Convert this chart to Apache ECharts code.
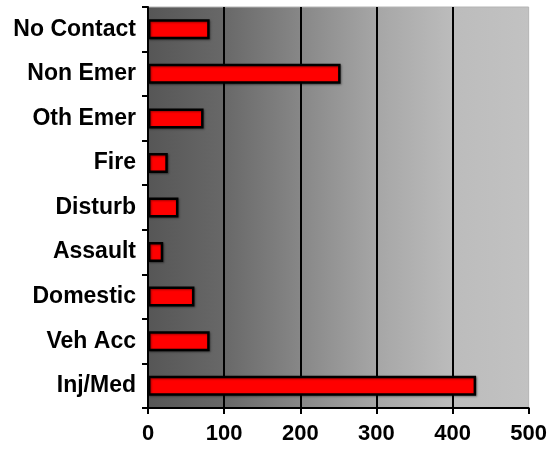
<!DOCTYPE html>
<html>
<head>
<meta charset="utf-8">
<script src="https://cdn.jsdelivr.net/npm/echarts@6/dist/echarts.min.js"></script>
<style>
html,body{margin:0;padding:0;background:#fff;}
#chart{width:550px;height:449px;}
</style>
</head>
<body>
<div id="chart"></div>
<script>
// Categories listed bottom to top (ECharts category y-axis starts at the bottom)
const categories = ['Inj/Med', 'Veh Acc', 'Domestic', 'Assault', 'Disturb', 'Fire', 'Oth Emer', 'Non Emer', 'No Contact'];
const counts = [431, 81, 61, 20, 40, 26, 73, 253, 81];
const xTicks = [0, 100, 200, 300, 400, 500];

const chart = echarts.init(document.getElementById('chart'), null, {renderer: 'canvas'});
const font = 'Liberation Sans, Arial, Helvetica, sans-serif';

chart.setOption({
  animation: false,
  backgroundColor: '#ffffff',
  grid: {
    left: 148, right: 21, top: 7, bottom: 41,
    show: true,
    borderWidth: 1,
    borderColor: '#b4b4b4',
    backgroundColor: {
      type: 'linear', x: 0, y: 0, x2: 1, y2: 0,
      colorStops: [
        {offset: 0, color: '#565656'},
        {offset: 0.2, color: '#686868'},
        {offset: 0.4, color: '#878787'},
        {offset: 0.6, color: '#a6a6a6'},
        {offset: 0.8, color: '#bcbcbc'},
        {offset: 1, color: '#c2c2c2'}
      ]
    }
  },
  xAxis: {
    type: 'value',
    min: xTicks[0],
    max: xTicks[xTicks.length - 1],
    interval: 100,
    axisLine: {show: true, lineStyle: {color: '#000', width: 2}},
    axisTick: {show: true, length: 6, lineStyle: {color: '#000', width: 2}},
    axisLabel: {
      color: '#000', fontFamily: font, fontWeight: 'bold', fontSize: 22, margin: 15
    },
    splitLine: {show: true, showMinLine: false, showMaxLine: false, lineStyle: {color: '#000', width: 2}}
  },
  yAxis: {
    type: 'category',
    data: categories,
    axisLine: {show: true, lineStyle: {color: '#000', width: 2}},
    axisTick: {show: true, length: 6, alignWithLabel: false, lineStyle: {color: '#000', width: 2}},
    axisLabel: {
      color: '#000', fontFamily: font, fontWeight: 'bold', fontSize: 23, margin: 12
    },
    splitLine: {show: false}
  },
  series: [{
    type: 'bar',
    data: counts,
    barWidth: 20,
    itemStyle: {
      color: '#ff0000',
      borderColor: '#000',
      borderWidth: 2.5,
      shadowColor: 'rgba(0,0,0,0.35)',
      shadowBlur: 2,
      shadowOffsetX: 1,
      shadowOffsetY: 1
    }
  }]
});
</script>
</body>
</html>
